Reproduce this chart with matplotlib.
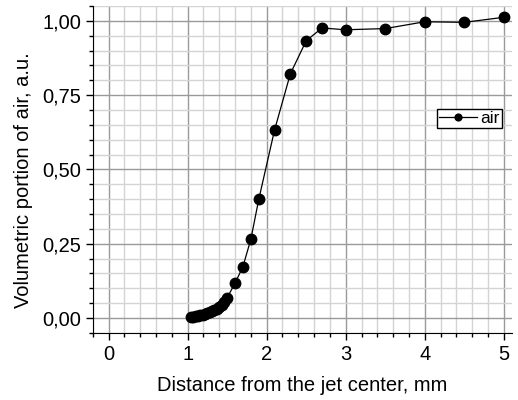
import numpy as np
import matplotlib.pyplot as plt
from matplotlib.ticker import MultipleLocator, FuncFormatter

plt.rcParams['font.family'] = ['Liberation Sans', 'DejaVu Sans']

# distance from jet center, mm
x = [1.04, 1.07, 1.10, 1.13, 1.16, 1.19, 1.22, 1.25, 1.28, 1.31, 1.34, 1.37,
     1.40, 1.43, 1.46, 1.50, 1.60, 1.70, 1.80, 1.90, 2.10, 2.30, 2.50, 2.70,
     3.00, 3.50, 4.00, 4.50, 5.00]
# volumetric portion of air
y = [0.003, 0.004, 0.005, 0.007, 0.009, 0.011, 0.013, 0.016, 0.019, 0.022,
     0.026, 0.030, 0.036, 0.045, 0.055, 0.068, 0.117, 0.173, 0.265, 0.399,
     0.633, 0.822, 0.933, 0.976, 0.970, 0.974, 0.997, 0.995, 1.012]

fig = plt.figure(figsize=(5.18, 4.0), dpi=100)
ax = fig.add_axes([0.179, 0.168, 0.809, 0.817])

ax.plot(x, y, color='black', linewidth=0.9, marker='o', markersize=7.5,
        label='air', zorder=3)

ax.set_xlim(-0.2, 5.1)
ax.set_ylim(-0.05, 1.05)
ax.xaxis.set_major_locator(MultipleLocator(1))
ax.xaxis.set_minor_locator(MultipleLocator(0.2))
ax.yaxis.set_major_locator(MultipleLocator(0.25))
ax.yaxis.set_minor_locator(MultipleLocator(0.05))
ax.yaxis.set_major_formatter(FuncFormatter(lambda v, p: f"{v:.2f}".replace('.', ',')))

ax.grid(which='major', color='#9a9a9a', linewidth=1.0)
ax.grid(which='minor', color='#d4d4d4', linewidth=1.0)
ax.set_axisbelow(True)

ax.spines['top'].set_visible(False)
ax.spines['right'].set_visible(False)
ax.tick_params(which='major', direction='out', length=5, labelsize=14.5, width=1)
ax.tick_params(which='minor', direction='out', length=3, width=1)

ax.set_xlabel("Distance from the jet center, mm", fontsize=14.5, labelpad=9)
ax.set_ylabel("Volumetric portion of air, a.u.", fontsize=14.5)
ax.yaxis.set_label_coords(-0.142, 0.468)

ax.legend(loc='center', bbox_to_anchor=(0.899, 0.655), fontsize=12.5,
          frameon=True, fancybox=False, edgecolor='black', framealpha=1,
          handlelength=2.2, handletextpad=0.2, borderpad=0.1,
          borderaxespad=0, markerscale=0.65)

fig.savefig('out.png', dpi=100)
